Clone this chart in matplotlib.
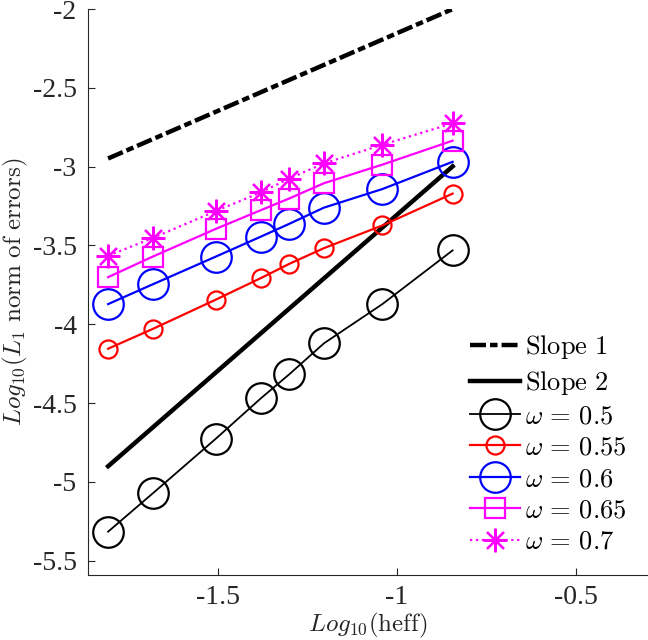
import matplotlib
matplotlib.use("Agg")
import matplotlib.pyplot as plt

# log10(heff) for the meshes
log_h = [-1.806, -1.681, -1.505, -1.380, -1.301, -1.204, -1.041, -0.845]

# log10 of the L1 error for each omega
err_050 = [-5.316, -5.072, -4.725, -4.470, -4.318, -4.121, -3.872, -3.531]
err_055 = [-4.155, -4.029, -3.843, -3.707, -3.617, -3.517, -3.373, -3.171]
err_060 = [-3.872, -3.746, -3.570, -3.444, -3.363, -3.260, -3.142, -2.969]
err_065 = [-3.701, -3.570, -3.394, -3.276, -3.202, -3.105, -2.987, -2.835]
err_070 = [-3.565, -3.452, -3.281, -3.163, -3.076, -2.979, -2.861, -2.725]

# reference slopes, endpoints only
slope_x = [-1.806, -0.845]
slope1_y = [-2.948, -2.0]
slope2_y = [-4.901, -2.998]

xticks = [-1.5, -1, -0.5]
yticks = [-5.5, -5, -4.5, -4, -3.5, -3, -2.5, -2]

plt.rcParams["mathtext.fontset"] = "cm"
plt.rcParams["font.family"] = ["Liberation Serif", "DejaVu Serif"]

fig = plt.figure(figsize=(6.48, 6.40), dpi=100)
ax = fig.add_axes([0.1353, 0.1013, 0.8647, 0.8845])

ax.plot(slope_x, slope1_y, color="black", lw=3.2,
        linestyle=(0, (3.6, 0.9, 1.7, 0.9)), label=r"$\mathrm{Slope\ 1}$")
ax.plot(slope_x, slope2_y, color="black", lw=3.2, label=r"$\mathrm{Slope\ 2}$")
ax.plot(log_h, err_050, color="black", lw=1.3, marker="o", ms=22,
        mfc="none", mew=1.6, label=r"$\omega\,=\,0.5$")
ax.plot(log_h, err_055, color="red", lw=1.6, marker="o", ms=13,
        mfc="none", mew=1.6, label=r"$\omega\,=\,0.55$")
ax.plot(log_h, err_060, color="blue", lw=1.6, marker="o", ms=22,
        mfc="none", mew=1.6, label=r"$\omega\,=\,0.6$")
ax.plot(log_h, err_065, color="magenta", lw=1.6, marker="s", ms=14,
        mfc="none", mew=1.6, label=r"$\omega\,=\,0.65$")
ax.plot(log_h, err_070, color="magenta", lw=1.6, linestyle=":",
        marker=(8, 2, 0), ms=17, mew=1.6, label=r"$\omega\,=\,0.7$")

ax.set_xlim(-1.863, -0.30)
ax.set_ylim(-5.592, -2.0)
ax.set_xticks(xticks)
ax.set_yticks(yticks)
ax.set_xticklabels([f"{t:g}" for t in xticks])
ax.set_yticklabels([f"{t:g}" for t in yticks])

for side in ["top", "right"]:
    ax.spines[side].set_visible(False)
for side in ["left", "bottom"]:
    ax.spines[side].set_color("#262626")
    ax.spines[side].set_linewidth(0.8)
ax.tick_params(direction="in", length=5, width=0.8, colors="#262626",
               labelsize=20, pad=8)
ax.tick_params(axis="x", pad=7)

ax.set_xlabel(r"$Log_{10}(\mathrm{heff})$", fontsize=18, color="#262626",
              labelpad=1)
ax.set_ylabel(r"$Log_{10}(L_1\ \mathrm{norm\ of\ errors})$", fontsize=18,
              color="#262626", labelpad=2)

ax.legend(loc="lower right", bbox_to_anchor=(0.995, 0.005), frameon=False,
          fontsize=19, handlelength=1.9, handletextpad=0.2,
          labelspacing=0.3, borderpad=0.2)

fig.savefig("out.png", dpi=100)
